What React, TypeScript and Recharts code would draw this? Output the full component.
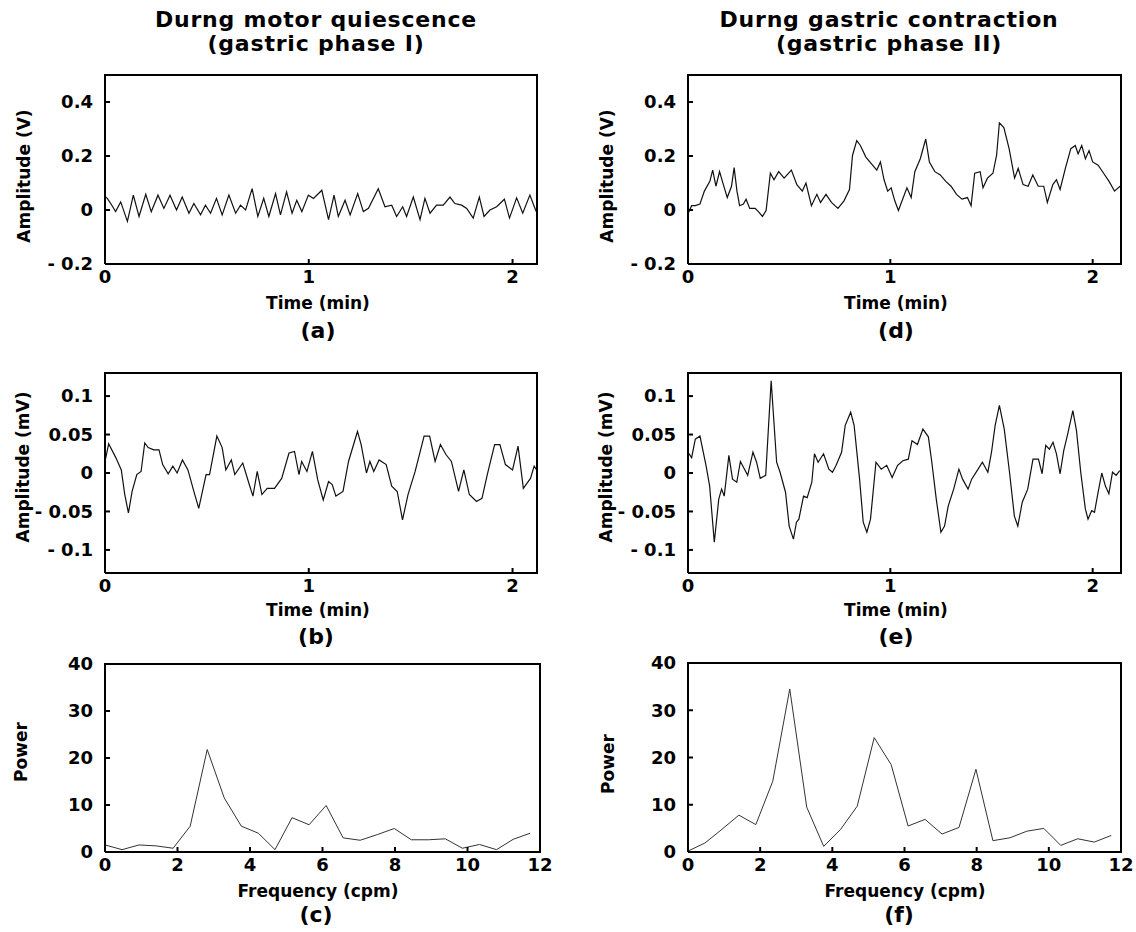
import { LineChart, Line, XAxis, YAxis } from 'recharts'

const FONT = '"DejaVu Sans", "Liberation Sans", sans-serif'

// (a) pressure, motor quiescence (V)
const timeA = [0, 0.011, 0.028, 0.052, 0.077, 0.11, 0.139, 0.167, 0.2, 0.227, 0.26, 0.289, 0.319, 0.351, 0.379, 0.412, 0.436, 0.469, 0.493, 0.518, 0.547, 0.575, 0.608, 0.641, 0.665, 0.69, 0.722, 0.75, 0.779, 0.804, 0.837, 0.861, 0.891, 0.918, 0.941, 0.966, 0.998, 1.023, 1.048, 1.064, 1.097, 1.124, 1.145, 1.178, 1.203, 1.24, 1.268, 1.293, 1.341, 1.374, 1.407, 1.431, 1.461, 1.48, 1.513, 1.546, 1.57, 1.595, 1.627, 1.66, 1.693, 1.717, 1.75, 1.775, 1.807, 1.837, 1.86, 1.889, 1.922, 1.96, 1.985, 2.02, 2.05, 2.085, 2.115, 2.13]
const ampA = [0.05, 0.043, 0.024, -0.006, 0.03, -0.042, 0.055, -0.024, 0.058, -0.006, 0.055, 0.006, 0.055, 0, 0.048, -0.012, 0.024, -0.018, 0.018, -0.012, 0.043, -0.018, 0.055, -0.012, 0.018, 0, 0.079, -0.024, 0.043, -0.024, 0.061, -0.018, 0.067, -0.012, 0.036, -0.006, 0.055, 0.043, 0.061, 0.073, -0.036, 0.055, -0.024, 0.036, -0.018, 0.061, -0.006, 0.006, 0.079, 0.012, 0.018, -0.024, 0.012, -0.024, 0.048, -0.036, 0.043, -0.012, 0.018, 0.018, 0.048, 0.024, 0.018, 0.006, -0.03, 0.048, -0.024, 0, 0.012, 0.04, -0.03, 0.045, -0.012, 0.055, -0.004, -0.01]

// (b) myoelectrical signal, motor quiescence (mV)
const timeB = [0, 0.018, 0.053, 0.08, 0.097, 0.115, 0.133, 0.156, 0.177, 0.195, 0.212, 0.239, 0.265, 0.283, 0.31, 0.333, 0.354, 0.38, 0.407, 0.434, 0.46, 0.496, 0.513, 0.549, 0.575, 0.593, 0.62, 0.637, 0.676, 0.708, 0.726, 0.747, 0.77, 0.796, 0.832, 0.867, 0.903, 0.93, 0.952, 0.965, 0.991, 1.018, 1.044, 1.071, 1.097, 1.115, 1.133, 1.168, 1.195, 1.239, 1.257, 1.283, 1.3, 1.319, 1.345, 1.38, 1.407, 1.434, 1.46, 1.487, 1.522, 1.566, 1.593, 1.62, 1.646, 1.673, 1.7, 1.735, 1.761, 1.788, 1.823, 1.85, 1.876, 1.912, 1.938, 1.965, 2.0, 2.027, 2.053, 2.088, 2.106, 2.133, 2.14]
const ampB = [0.015, 0.038, 0.02, 0.004, -0.028, -0.052, -0.024, -0.002, 0.002, 0.039, 0.033, 0.03, 0.03, 0.011, -0.001, 0.009, 0, 0.017, 0.004, -0.022, -0.046, -0.002, -0.002, 0.048, 0.033, 0.004, 0.017, -0.002, 0.013, -0.015, -0.03, 0.002, -0.028, -0.02, -0.02, -0.007, 0.026, 0.028, -0.002, 0.015, 0.002, 0.028, -0.009, -0.035, -0.011, -0.015, -0.03, -0.024, 0.015, 0.054, 0.037, 0, 0.015, 0.002, 0.017, 0.011, -0.017, -0.024, -0.061, -0.028, 0.002, 0.048, 0.048, 0.015, 0.037, 0.024, 0.015, -0.024, 0.004, -0.028, -0.037, -0.033, -0.002, 0.037, 0.037, 0.011, 0.004, 0.035, -0.02, -0.007, 0.009, -0.002, -0.04]

// (d) pressure, gastric contraction (V)
const timeD = [0, 0.018, 0.036, 0.059, 0.081, 0.108, 0.122, 0.138, 0.156, 0.17, 0.194, 0.215, 0.228, 0.242, 0.255, 0.274, 0.287, 0.305, 0.332, 0.35, 0.368, 0.386, 0.407, 0.425, 0.448, 0.475, 0.511, 0.538, 0.565, 0.583, 0.61, 0.637, 0.655, 0.682, 0.709, 0.741, 0.771, 0.798, 0.813, 0.834, 0.852, 0.879, 0.906, 0.933, 0.951, 0.969, 0.987, 1.004, 1.022, 1.04, 1.058, 1.082, 1.103, 1.121, 1.148, 1.175, 1.193, 1.22, 1.247, 1.274, 1.3, 1.327, 1.354, 1.381, 1.399, 1.417, 1.444, 1.458, 1.48, 1.507, 1.525, 1.539, 1.561, 1.587, 1.614, 1.632, 1.656, 1.681, 1.704, 1.731, 1.758, 1.776, 1.803, 1.821, 1.839, 1.865, 1.892, 1.914, 1.928, 1.946, 1.964, 1.982, 2.0, 2.027, 2.054, 2.081, 2.108, 2.135]
const ampD = [-0.014, 0.016, 0.016, 0.022, 0.07, 0.106, 0.148, 0.088, 0.142, 0.106, 0.046, 0.088, 0.157, 0.07, 0.016, 0.022, 0.04, 0.006, 0.006, -0.008, -0.024, -0.002, 0.136, 0.112, 0.142, 0.118, 0.148, 0.094, 0.07, 0.1, 0.016, 0.058, 0.028, 0.058, 0.028, 0.006, 0.034, 0.076, 0.202, 0.257, 0.239, 0.196, 0.172, 0.148, 0.178, 0.112, 0.07, 0.082, 0.034, -0.002, 0.034, 0.082, 0.046, 0.142, 0.19, 0.263, 0.178, 0.142, 0.13, 0.106, 0.088, 0.058, 0.04, 0.046, 0.016, 0.136, 0.142, 0.082, 0.118, 0.136, 0.202, 0.323, 0.305, 0.227, 0.118, 0.154, 0.094, 0.088, 0.13, 0.088, 0.088, 0.028, 0.094, 0.112, 0.076, 0.154, 0.227, 0.239, 0.208, 0.239, 0.19, 0.22, 0.178, 0.166, 0.136, 0.106, 0.07, 0.088]

// (e) myoelectrical signal, gastric contraction (mV)
const timeE = [0, 0.018, 0.036, 0.059, 0.089, 0.107, 0.13, 0.152, 0.166, 0.179, 0.202, 0.22, 0.241, 0.259, 0.295, 0.321, 0.339, 0.357, 0.384, 0.411, 0.438, 0.455, 0.482, 0.5, 0.521, 0.536, 0.548, 0.571, 0.589, 0.612, 0.625, 0.643, 0.67, 0.696, 0.714, 0.732, 0.759, 0.777, 0.804, 0.821, 0.848, 0.866, 0.884, 0.902, 0.929, 0.955, 0.982, 1.009, 1.036, 1.062, 1.089, 1.107, 1.134, 1.161, 1.188, 1.205, 1.227, 1.25, 1.268, 1.286, 1.313, 1.339, 1.357, 1.384, 1.402, 1.429, 1.455, 1.482, 1.5, 1.518, 1.539, 1.563, 1.589, 1.613, 1.63, 1.652, 1.679, 1.705, 1.732, 1.75, 1.768, 1.786, 1.804, 1.821, 1.839, 1.857, 1.875, 1.902, 1.92, 1.941, 1.964, 1.977, 1.995, 2.009, 2.027, 2.045, 2.063, 2.08, 2.098, 2.116, 2.134]
const ampE = [0.027, 0.02, 0.044, 0.048, 0.01, -0.017, -0.09, -0.034, -0.021, -0.03, 0.023, -0.008, -0.012, 0.015, -0.003, 0.027, 0.014, -0.007, -0.003, 0.12, 0.014, 0.001, -0.025, -0.069, -0.086, -0.064, -0.06, -0.03, -0.032, -0.012, 0.025, 0.014, 0.025, 0.005, 0.001, 0.01, 0.027, 0.062, 0.079, 0.062, -0.008, -0.064, -0.077, -0.06, 0.014, 0.005, 0.01, -0.006, 0.01, 0.016, 0.018, 0.042, 0.037, 0.057, 0.047, 0.014, -0.034, -0.077, -0.069, -0.043, -0.021, 0.005, -0.008, -0.021, -0.008, 0.003, 0.014, 0.001, 0.027, 0.062, 0.088, 0.057, 0.001, -0.056, -0.069, -0.038, -0.021, 0.018, 0.018, -0.001, 0.036, 0.031, 0.04, 0.025, -0.001, 0.029, 0.049, 0.081, 0.055, 0.001, -0.047, -0.06, -0.049, -0.051, -0.025, 0, -0.017, -0.027, 0.001, -0.003, 0.003]

// (c) and (f) power spectra
const freqBins = [0, 0.47, 0.94, 1.41, 1.88, 2.35, 2.82, 3.29, 3.76, 4.23, 4.69, 5.16, 5.63, 6.1, 6.57, 7.04, 7.51, 7.98, 8.45, 8.92, 9.39, 9.86, 10.33, 10.8, 11.26, 11.73]
const powerC = [1.5, 0.5, 1.5, 1.3, 0.8, 5.5, 21.8, 11.5, 5.5, 4, 0.5, 7.3, 5.8, 9.9, 3, 2.5, 3.7, 5, 2.6, 2.6, 2.8, 0.8, 1.6, 0.5, 2.7, 4]
const powerF = [0.2, 1.9, 4.8, 7.8, 5.8, 15, 34.5, 9.5, 1.2, 4.8, 9.7, 24.2, 18.5, 5.5, 6.9, 3.8, 5.2, 17.5, 2.4, 3, 4.4, 5, 1.4, 2.8, 2.1, 3.5]

const timeTicks = [0, 1, 2]
const freqTicks = [0, 2, 4, 6, 8, 10, 12]
const voltTicks = [-0.2, 0, 0.2, 0.4]
const mvTicks = [-0.1, -0.05, 0, 0.05, 0.1]
const powerTicks = [0, 10, 20, 30, 40]

const AXIS_W = 90
const AXIS_H = 40
const PAD = 10
const RPAD = 24

const tickStyle = { fill: '#000', fontSize: 18, fontWeight: 700, fontFamily: FONT }

function fmt(v: number): string {
  return v < 0 ? `- ${Math.abs(v)}` : `${v}`
}

interface Box {
  x: number
  y: number
  w: number
  h: number
}

interface PanelProps {
  xs: number[]
  ys: number[]
  box: Box
  xMax: number
  xTicks: number[]
  yDomain: [number, number]
  yTicks: number[]
  width?: number
  color?: string
}

function Panel({ xs, ys, box, xMax, xTicks, yDomain, yTicks, width = 1.2, color = '#111' }: PanelProps) {
  const data = xs.map((x, i) => ({ x, y: ys[i] }))
  return (
    <div style={{ position: 'absolute', left: box.x - AXIS_W, top: box.y - PAD, width: box.w + AXIS_W + RPAD, height: box.h + PAD + AXIS_H }}>
      <LineChart
        width={box.w + AXIS_W + RPAD}
        height={box.h + PAD + AXIS_H}
        data={data}
        margin={{ top: PAD, right: RPAD, bottom: 0, left: 0 }}
      >
        <XAxis
          dataKey="x"
          type="number"
          domain={[0, xMax]}
          ticks={xTicks}
          interval={0}
          allowDataOverflow
          height={AXIS_H}
          tickSize={-5}
          tickMargin={11}
          tick={tickStyle}
          stroke="#000"
          strokeWidth={2}
        />
        <YAxis
          type="number"
          domain={yDomain}
          ticks={yTicks}
          interval={0}
          allowDataOverflow
          width={AXIS_W}
          tickSize={-5}
          tickMargin={17}
          tick={tickStyle}
          tickFormatter={fmt}
          stroke="#000"
          strokeWidth={2}
        />
        <Line
          type="linear"
          dataKey="y"
          stroke={color}
          strokeWidth={width}
          dot={false}
          isAnimationActive={false}
        />
      </LineChart>
    </div>
  )
}

// top and right edges of each plot frame
function Frame({ box }: { box: Box }) {
  return (
    <>
      <div style={{ position: 'absolute', zIndex: 5, left: box.x - 1, top: box.y - 1, width: box.w + 2, height: 2, background: '#000' }} />
      <div style={{ position: 'absolute', zIndex: 5, left: box.x + box.w - 1, top: box.y - 1, width: 2, height: box.h + 2, background: '#000' }} />
    </>
  )
}

function Label({ x, y, text, size = 18, rotate = false, spacing = 0 }: { x: number; y: number; text: string; size?: number; rotate?: boolean; spacing?: number }) {
  return (
    <div
      style={{
        position: 'absolute',
        left: x,
        top: y,
        transform: `translate(-50%, -50%)${rotate ? ' rotate(-90deg)' : ''}`,
        whiteSpace: 'nowrap',
        fontFamily: FONT,
        fontWeight: 700,
        fontSize: size,
        letterSpacing: spacing,
        lineHeight: 1,
        color: '#000',
      }}
    >
      {text}
    </div>
  )
}

const boxA = { x: 105, y: 75, w: 432, h: 189 }
const boxD = { x: 688, y: 75, w: 433, h: 189 }
const boxB = { x: 105, y: 373, w: 432, h: 200 }
const boxE = { x: 688, y: 373, w: 433, h: 200 }
const boxC = { x: 105, y: 664, w: 435, h: 188 }
const boxF = { x: 688, y: 663, w: 433, h: 189 }

export default function App() {
  return (
    <div style={{ position: 'absolute', left: 0, top: 0, width: 1136, height: 932, background: '#fff', overflow: 'hidden' }}>
      <Label x={316} y={20} text="Durng motor quiescence" size={22} spacing={0.8} />
      <Label x={316} y={44} text="(gastric phase I)" size={22} spacing={0.8} />
      <Label x={889} y={20} text="Durng gastric contraction" size={22} spacing={0.8} />
      <Label x={889} y={44} text="(gastric phase II)" size={22} spacing={0.8} />

      <Panel xs={timeA} ys={ampA} box={boxA} xMax={2.12} xTicks={timeTicks} yDomain={[-0.2, 0.5]} yTicks={voltTicks} />
      <Panel xs={timeD} ys={ampD} box={boxD} xMax={2.14} xTicks={timeTicks} yDomain={[-0.2, 0.5]} yTicks={voltTicks} />
      <Panel xs={timeB} ys={ampB} box={boxB} xMax={2.12} xTicks={timeTicks} yDomain={[-0.13, 0.13]} yTicks={mvTicks} />
      <Panel xs={timeE} ys={ampE} box={boxE} xMax={2.14} xTicks={timeTicks} yDomain={[-0.13, 0.13]} yTicks={mvTicks} />
      <Panel xs={freqBins} ys={powerC} box={boxC} xMax={12} xTicks={freqTicks} yDomain={[0, 40]} yTicks={powerTicks} width={1} color="#333" />
      <Panel xs={freqBins} ys={powerF} box={boxF} xMax={12} xTicks={freqTicks} yDomain={[0, 40]} yTicks={powerTicks} width={1} color="#333" />

      <Frame box={boxA} />
      <Frame box={boxD} />
      <Frame box={boxB} />
      <Frame box={boxE} />
      <Frame box={boxC} />
      <Frame box={boxF} />

      <Label x={24} y={176} text="Amplitude (V)" size={17} rotate />
      <Label x={607} y={176} text="Amplitude (V)" size={17} rotate />
      <Label x={23} y={467} text="Amplitude (mV)" size={17} rotate />
      <Label x={606} y={467} text="Amplitude (mV)" size={17} rotate />
      <Label x={21} y={752} text="Power" size={17} rotate />
      <Label x={608} y={764} text="Power" size={17} rotate />

      <Label x={318} y={303} text="Time (min)" size={17} />
      <Label x={896} y={303} text="Time (min)" size={17} />
      <Label x={318} y={610} text="Time (min)" size={17} />
      <Label x={896} y={610} text="Time (min)" size={17} />
      <Label x={318} y={891} text="Frequency (cpm)" size={17} />
      <Label x={905} y={891} text="Frequency (cpm)" size={17} />

      <Label x={318} y={331} text="(a)" size={22} />
      <Label x={896} y={331} text="(d)" size={22} />
      <Label x={316} y={637} text="(b)" size={22} />
      <Label x={896} y={637} text="(e)" size={22} />
      <Label x={316} y={915} text="(c)" size={22} />
      <Label x={899} y={915} text="(f)" size={22} />
    </div>
  )
}
